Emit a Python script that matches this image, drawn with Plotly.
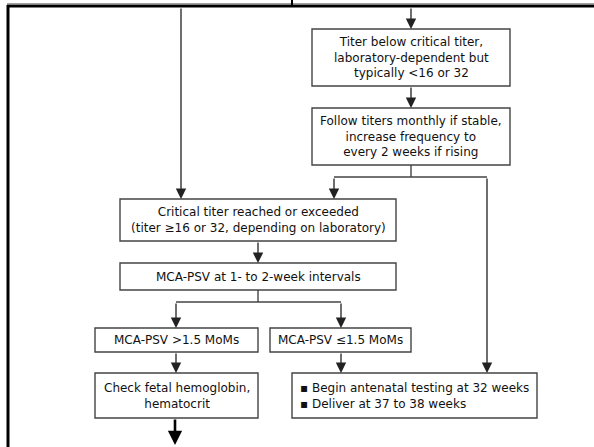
import plotly.graph_objects as go

W, H = 594, 447

# ---- content (texts) ----
box_names = ["below", "follow", "critical", "mca", "high", "low", "check", "begin"]
box_texts = [
    "Titer below critical titer,<br>laboratory-dependent but<br>typically &lt;16 or 32",
    "Follow titers monthly if stable,<br>increase frequency to<br>every 2 weeks if rising",
    "Critical titer reached or exceeded<br>(titer ≥16 or 32, depending on laboratory)",
    "MCA-PSV at 1- to 2-week intervals",
    "MCA-PSV &gt;1.5 MoMs",
    "MCA-PSV ≤1.5 MoMs",
    "Check fetal hemoglobin,<br>hematocrit",
    "▪ Begin antenatal testing at 32 weeks<br>▪ Deliver at 37 to 38 weeks",
]

# ---- layout geometry (pixel space) ----
box_geom = {
    "below":    (312, 510, 29, 86),
    "follow":   (312, 510, 108, 165),
    "critical": (120, 396, 199, 241),
    "mca":      (120, 396, 263, 290),
    "high":     (95, 258, 328, 352),
    "low":      (270, 411, 328, 352),
    "check":    (95, 258, 373, 418),
    "begin":    (292, 537, 373, 418),
}

LINE = "#444444"
TXT = "#111111"
FONT = "DejaVu Sans"
FS = 12

shapes = []
annotations = []

# frame
shapes.append(dict(type="line", x0=7, x1=W, y0=3.5, y1=3.5, line=dict(color="#a0a0a0", width=1)))
shapes.append(dict(type="line", x0=7, x1=W, y0=6, y1=6, line=dict(color="black", width=3)))
shapes.append(dict(type="line", x0=8, x1=8, y0=5, y1=H, line=dict(color="black", width=3)))
shapes.append(dict(type="line", x0=292, x1=292, y0=0, y1=5, line=dict(color="black", width=2)))

# boxes + text
for name, txt in zip(box_names, box_texts):
    x0, x1, y0, y1 = box_geom[name]
    shapes.append(dict(type="rect", x0=x0, x1=x1, y0=y0, y1=y1,
                       line=dict(color=LINE, width=1.4), fillcolor="white", layer="below"))
    if name == "begin":
        annotations.append(dict(x=x0 + 6, y=(y0 + y1) / 2, text=txt, showarrow=False,
                                xanchor="left", yanchor="middle", align="left",
                                font=dict(family=FONT, size=FS, color=TXT)))
    else:
        annotations.append(dict(x=(x0 + x1) / 2, y=(y0 + y1) / 2, text=txt, showarrow=False,
                                xanchor="center", yanchor="middle", align="center",
                                font=dict(family=FONT, size=FS, color=TXT)))

# plain connector segments
segments = [
    (411, 165, 411, 177),
    (334, 177, 487, 177),
    (258, 290, 258, 302),
    (176, 302, 341, 302),
]
for x0, y0, x1, y1 in segments:
    shapes.append(dict(type="line", x0=x0, y0=y0, x1=x1, y1=y1, line=dict(color=LINE, width=1.4)))

# arrows: (tail x, tail y, tip x, tip y)
arrows = [
    (181, 7, 181, 199),
    (411, 7, 411, 29),
    (411, 86, 411, 108),
    (334, 177, 334, 199),
    (487, 177, 487, 373),
    (258, 241, 258, 263),
    (176, 302, 176, 328),
    (341, 302, 341, 328),
    (176, 352, 176, 373),
    (341, 352, 341, 373),
]
for ax, ay, x, y in arrows:
    annotations.append(dict(x=x, y=y, ax=ax, ay=ay, xref="x", yref="y", axref="x", ayref="y",
                            showarrow=True, arrowhead=2, arrowsize=1.6, arrowwidth=1.3,
                            arrowcolor="#222222", standoff=0, text=""))
# thick bottom arrow
annotations.append(dict(x=175, y=445, ax=175, ay=418, xref="x", yref="y", axref="x", ayref="y",
                        showarrow=True, arrowhead=2, arrowsize=1.1, arrowwidth=2.6,
                        arrowcolor="black", standoff=0, text=""))

fig = go.Figure()
fig.update_layout(
    width=W, height=H,
    margin=dict(l=0, r=0, t=0, b=0),
    paper_bgcolor="white", plot_bgcolor="white",
    xaxis=dict(range=[0, W], visible=False, fixedrange=True),
    yaxis=dict(range=[H, 0], visible=False, fixedrange=True),
    shapes=shapes, annotations=annotations, showlegend=False,
)
fig.write_html("out.html", config={"displayModeBar": False},
               post_script="document.body.style.margin='0';document.body.style.overflow='hidden';")
